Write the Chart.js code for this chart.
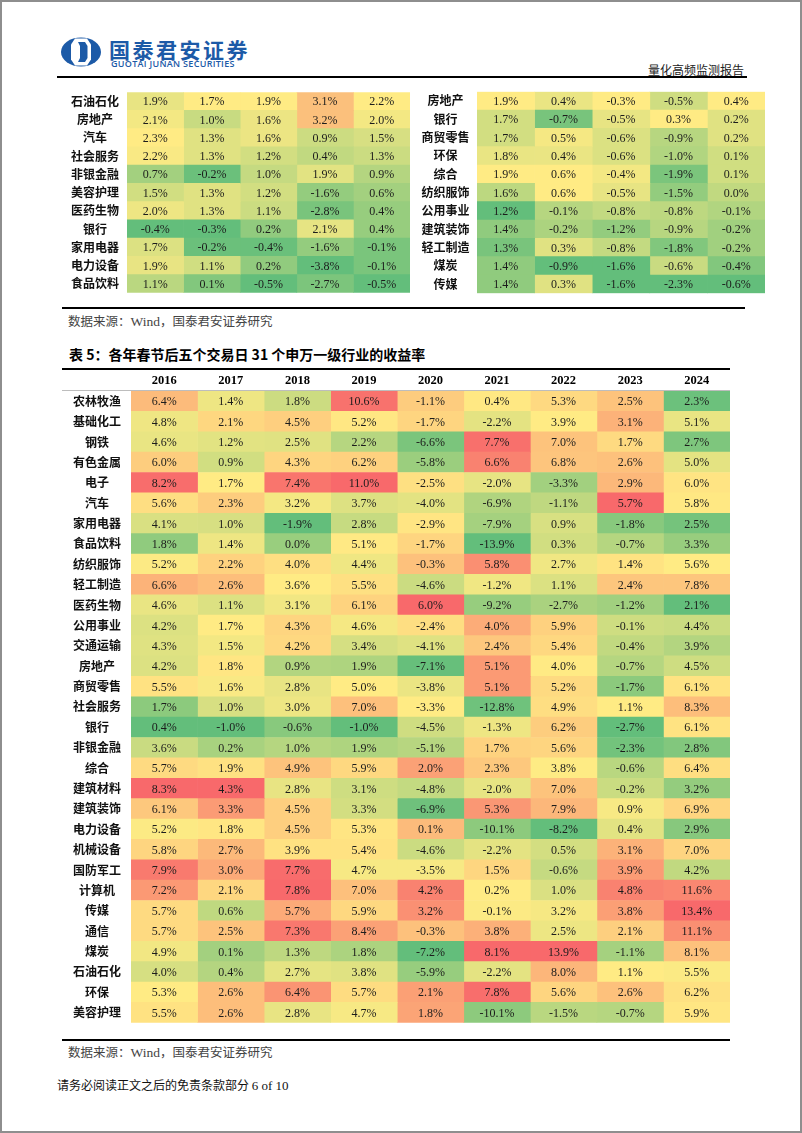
<!DOCTYPE html>
<html>
<head>
<meta charset="utf-8">
<script src="https://cdn.jsdelivr.net/npm/chart.js@4.4.0/dist/chart.umd.min.js"></script>
<style>
body { margin: 0; background: #fff; }
#page { position: relative; width: 802px; height: 1133px; overflow: hidden; font-family: 'Noto Sans CJK SC', sans-serif; }
#frame { position: absolute; left: 0; top: 0; width: 802px; height: 1133px; box-sizing: border-box; border: 2px solid #8e8e8e; pointer-events: none; z-index: 5; }
.box { position: absolute; }
.rule { position: absolute; background: #000; z-index: 3; }
.txt { position: absolute; white-space: nowrap; }
.src { font-size: 12.5px; color: #444; line-height: 16px; }
.src span { font-family: 'Liberation Serif', serif; font-size: 13.5px; }
</style>
</head>
<body>
<div id="page">
  <svg class="box" style="left:60px;top:37px" width="42" height="30" viewBox="0 0 42 30">
    <ellipse cx="21" cy="15" rx="20" ry="14.5" fill="#1c5aa7"/>
    <polygon points="15,1.5 27,1.5 31,7.5 31,22.5 27,28.5 15,28.5 11,22.5 11,7.5" fill="#fff"/>
    <polygon points="18,5 25,5 27.5,9 27.5,21 25,25 18,25 20,21 20,9" fill="#1c5aa7"/>
  </svg>
  <div class="txt" style="left:109px;top:37px;font-size:21px;line-height:24px;font-weight:bold;color:#1c5aa7;letter-spacing:2.5px">国泰君安证券</div>
  <div class="txt" style="left:111px;top:59px;font-family:'Open Sans',sans-serif;font-size:9px;line-height:10px;font-weight:600;color:#1c5aa7;letter-spacing:0.3px">GUOTAI JUNAN SECURITIES</div>
  <div class="txt" style="left:648px;top:62px;font-size:12px;line-height:16px;color:#222">量化高频监测报告</div>

  <div class="box" style="left:62px;top:77px;width:348px;height:231px"><canvas id="topLeft"></canvas></div>
  <div class="box" style="left:410px;top:77px;width:355px;height:231px"><canvas id="topRight"></canvas></div>
  <div class="rule" style="left:57px;top:76px;width:690px;height:2px"></div>
  <div class="rule" style="left:62px;top:307px;width:683px;height:2px"></div>

  <div class="txt src" style="left:68px;top:313px">数据来源：<span>Wind</span>，国泰君安证券研究</div>
  <div class="txt" style="left:69px;top:345px;font-size:14px;line-height:18px;font-weight:bold;color:#000">表 5：各年春节后五个交易日 31 个申万一级行业的收益率</div>

  <div class="box" style="left:62px;top:370px;width:668px;height:670px"><canvas id="bottom"></canvas></div>
  <div class="rule" style="left:62px;top:368px;width:668px;height:2px"></div>
  <div class="rule" style="left:62px;top:390px;width:668px;height:1px;background:#bdbdbd"></div>
  <div class="rule" style="left:62px;top:1039px;width:668px;height:2px"></div>

  <div class="txt src" style="left:68px;top:1044px">数据来源：<span>Wind</span>，国泰君安证券研究</div>
  <div class="txt" style="left:57px;top:1077px;font-size:12px;line-height:16px;color:#111">请务必阅读正文之后的免责条款部分 <span style="font-family:'Liberation Serif',serif;font-size:13px">6 of 10</span></div>
  <div id="frame"></div>
</div>

<script>
// ---- top table (continued from previous page), left half ----
const leftRows = ['石油石化', '房地产', '汽车', '社会服务', '非银金融', '美容护理', '医药生物', '银行', '家用电器', '电力设备', '食品饮料'];
const leftC1 = [1.9, 2.1, 2.3, 2.2, 0.7, 1.5, 2.0, -0.4, 1.7, 1.9, 1.1];
const leftC2 = [1.7, 1.0, 1.3, 1.3, -0.2, 1.3, 1.3, -0.3, -0.2, 1.1, 0.1];
const leftC3 = [1.9, 1.6, 1.6, 1.2, 1.0, 1.2, 1.1, 0.2, -0.4, 0.2, -0.5];
const leftC4 = [3.1, 3.2, 0.9, 0.4, 1.9, -1.6, -2.8, 2.1, -1.6, -3.8, -2.7];
const leftC5 = [2.2, 2.0, 1.5, 1.3, 0.9, 0.6, 0.4, 0.4, -0.1, -0.1, -0.5];

// ---- top table, right half ----
const rightRows = ['房地产', '银行', '商贸零售', '环保', '综合', '纺织服饰', '公用事业', '建筑装饰', '轻工制造', '煤炭', '传媒'];
const rightC1 = [1.9, 1.7, 1.7, 1.8, 1.9, 1.6, 1.2, 1.4, 1.3, 1.4, 1.4];
const rightC2 = [0.4, -0.7, 0.5, 0.4, 0.6, 0.6, -0.1, -0.2, 0.3, -0.9, 0.3];
const rightC3 = [-0.3, -0.5, -0.6, -0.6, -0.4, -0.5, -0.8, -1.2, -0.8, -1.6, -1.6];
const rightC4 = [-0.5, 0.3, -0.9, -1.0, -1.9, -1.5, -0.8, -0.9, -1.8, -0.6, -2.3];
const rightC5 = [0.4, 0.2, 0.2, 0.1, 0.1, 0.0, -0.1, -0.2, -0.2, -0.4, -0.6];

// ---- table 5 ----
const years = ['2016', '2017', '2018', '2019', '2020', '2021', '2022', '2023', '2024'];
const industries = ['农林牧渔', '基础化工', '钢铁', '有色金属', '电子', '汽车', '家用电器', '食品饮料', '纺织服饰', '轻工制造',
  '医药生物', '公用事业', '交通运输', '房地产', '商贸零售', '社会服务', '银行', '非银金融', '综合', '建筑材料',
  '建筑装饰', '电力设备', '机械设备', '国防军工', '计算机', '传媒', '通信', '煤炭', '石油石化', '环保', '美容护理'];
const r2016 = [6.4, 4.8, 4.6, 6.0, 8.2, 5.6, 4.1, 1.8, 5.2, 6.6, 4.6, 4.2, 4.3, 4.2, 5.5, 1.7, 0.4, 3.6, 5.7, 8.3, 6.1, 5.2, 5.8, 7.9, 7.2, 5.7, 5.7, 4.9, 4.0, 5.3, 5.5];
const r2017 = [1.4, 2.1, 1.2, 0.9, 1.7, 2.3, 1.0, 1.4, 2.2, 2.6, 1.1, 1.7, 1.5, 1.8, 1.6, 1.0, -1.0, 0.2, 1.9, 4.3, 3.3, 1.8, 2.7, 3.0, 2.1, 0.6, 2.5, 0.1, 0.4, 2.6, 2.6];
const r2018 = [1.8, 4.5, 2.5, 4.3, 7.4, 3.2, -1.9, 0.0, 4.0, 3.6, 3.1, 4.3, 4.2, 0.9, 2.8, 3.0, -0.6, 1.0, 4.9, 2.8, 4.5, 4.5, 3.9, 7.7, 7.8, 5.7, 7.3, 1.3, 2.7, 6.4, 2.8];
const r2019 = [10.6, 5.2, 2.2, 6.2, 11.0, 3.7, 2.8, 5.1, 4.4, 5.5, 6.1, 4.6, 3.4, 1.9, 5.0, 7.0, -1.0, 1.9, 5.9, 3.1, 3.3, 5.3, 5.4, 4.7, 7.0, 5.9, 8.4, 1.8, 3.8, 5.7, 4.7];
const r2020 = [-1.1, -1.7, -6.6, -5.8, -2.5, -4.0, -2.9, -1.7, -0.3, -4.6, 6.0, -2.4, -4.1, -7.1, -3.8, -3.3, -4.5, -5.1, 2.0, -4.8, -6.9, 0.1, -4.6, -3.5, 4.2, 3.2, -0.3, -7.2, -5.9, 2.1, 1.8];
const r2021 = [0.4, -2.2, 7.7, 6.6, -2.0, -6.9, -7.9, -13.9, 5.8, -1.2, -9.2, 4.0, 2.4, 5.1, 5.1, -12.8, -1.3, 1.7, 2.3, -2.0, 5.3, -10.1, -2.2, 1.5, 0.2, -0.1, 3.8, 8.1, -2.2, 7.8, -10.1];
const r2022 = [5.3, 3.9, 7.0, 6.8, -3.3, -1.1, 0.9, 0.3, 2.7, 1.1, -2.7, 5.9, 5.4, 4.0, 5.2, 4.9, 6.2, 5.6, 3.8, 7.0, 7.9, -8.2, 0.5, -0.6, 1.0, 3.2, 2.5, 13.9, 8.0, 5.6, -1.5];
const r2023 = [2.5, 3.1, 1.7, 2.6, 2.9, 5.7, -1.8, -0.7, 1.4, 2.4, -1.2, -0.1, -0.4, -0.7, -1.7, 1.1, -2.7, -2.3, -0.6, -0.2, 0.9, 0.4, 3.1, 3.9, 4.8, 3.8, 2.1, -1.1, 1.1, 2.6, -0.7];
const r2024 = [2.3, 5.1, 2.7, 5.0, 6.0, 5.8, 2.5, 3.3, 5.6, 7.8, 2.1, 4.4, 3.9, 4.5, 6.1, 8.3, 6.1, 2.8, 6.4, 3.2, 6.9, 2.9, 7.0, 4.2, 11.6, 13.4, 11.1, 8.1, 5.5, 6.2, 5.9];

const GREEN = [99, 190, 123], YELLOW = [255, 235, 132], RED = [248, 105, 107], ORANGE = [251, 192, 124];
const LABEL_FONT = { family: "'Noto Sans CJK SC', sans-serif", size: 12, weight: 'bold' };
const NUM_FONT = "12px 'Liberation Serif', 'DejaVu Serif', serif";

function mix(a, b, t) {
  t = Math.max(0, Math.min(1, t));
  return a.map((v, i) => Math.round(v + (b[i] - v) * t));
}
function median(arr) {
  const s = [...arr].sort((a, b) => a - b);
  const n = s.length;
  return n % 2 ? s[(n - 1) / 2] : (s[n / 2 - 1] + s[n / 2]) / 2;
}
// red-yellow-green, per column (min green / median yellow / max red)
function scale3(col) {
  const lo = Math.min(...col), hi = Math.max(...col), mid = median(col);
  return col.map(v => v <= mid ? mix(GREEN, YELLOW, (v - lo) / ((mid - lo) || 1))
                               : mix(YELLOW, RED, (v - mid) / ((hi - mid) || 1)));
}
// green-yellow, per column; the few high values lean orange
function scaleTop(col) {
  const lo = Math.min(...col), hi = Math.max(...col);
  return col.map(v => {
    let c = mix(GREEN, YELLOW, (v - lo) / ((hi - lo) || 1));
    if (v > 2.5) c = mix(c, ORANGE, (v - 2.5) / 0.6);
    return c;
  });
}

const cellText = {
  id: 'cellText',
  afterDatasetsDraw(chart) {
    const ctx = chart.ctx;
    ctx.save();
    ctx.font = NUM_FONT;
    ctx.fillStyle = '#1c1c1c';
    ctx.textAlign = 'center';
    ctx.textBaseline = 'middle';
    chart.data.datasets.forEach((ds, j) => {
      chart.getDatasetMeta(j).data.forEach((bar, i) => {
        ctx.fillText(ds.values[i].toFixed(1) + '%', (bar.x + bar.base) / 2, bar.y + 1);
      });
    });
    ctx.restore();
  }
};

function makeTable(id, rowLabels, columns, colorFn, labelWidth, labelPad, header) {
  const datasets = columns.map(col => ({
    data: rowLabels.map(() => 1),
    values: col,
    backgroundColor: colorFn(col).map(c => 'rgb(' + c.join(',') + ')'),
    borderWidth: 0,
    barPercentage: 1,
    categoryPercentage: 1
  }));
  const scales = {
    x: { type: 'linear', stacked: true, min: 0, max: columns.length, display: false },
    y: {
      stacked: true,
      grid: { display: false, drawTicks: false },
      border: { display: false },
      ticks: { autoSkip: false, crossAlign: 'center', padding: labelPad, color: '#111', font: LABEL_FONT },
      afterFit(s) { s.width = labelWidth; }
    }
  };
  if (header) {
    scales.xTop = {
      type: 'category', axis: 'x', position: 'top', labels: header, offset: true,
      grid: { display: false, drawTicks: false },
      border: { display: false },
      ticks: { padding: 3, color: '#000', font: { family: "'Liberation Serif', serif", size: 12.5, weight: 'bold' } },
      afterFit(s) { s.height = 21; }
    };
  }
  new Chart(document.getElementById(id), {
    type: 'bar',
    data: { labels: rowLabels, datasets: datasets },
    options: {
      indexAxis: 'y',
      responsive: true,
      maintainAspectRatio: false,
      animation: false,
      layout: { padding: 0 },
      plugins: { legend: { display: false }, tooltip: { enabled: false } },
      scales: scales
    },
    plugins: [cellText]
  });
}

makeTable('topLeft', leftRows, [leftC1, leftC2, leftC3, leftC4, leftC5], scaleTop, 65, 8, null);
makeTable('topRight', rightRows, [rightC1, rightC2, rightC3, rightC4, rightC5], scaleTop, 67, 7.5, null);
makeTable('bottom', industries, [r2016, r2017, r2018, r2019, r2020, r2021, r2022, r2023, r2024], scale3, 69, 10, years);
</script>
</body>
</html>
